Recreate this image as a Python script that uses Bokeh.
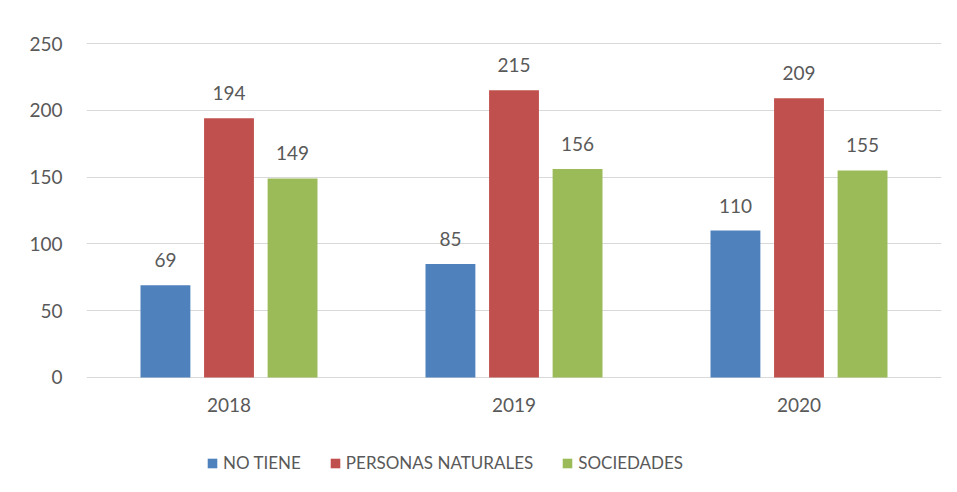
from bokeh.plotting import figure
from bokeh.models import ColumnDataSource, LabelSet, Legend, LegendItem, FactorRange, Range1d
from bokeh.transform import dodge
from bokeh.core.properties import value
from bokeh.embed import file_html
from bokeh.resources import INLINE

years = ["2018", "2019", "2020"]
no_tiene = [69, 85, 110]
personas_naturales = [194, 215, 209]
sociedades = [149, 156, 155]
series_names = ["NO TIENE", "PERSONAS NATURALES", "SOCIEDADES"]
colors = ["#4f81bd", "#c0504d", "#9bbb59"]
y_ticks = [0, 50, 100, 150, 200, 250]

FONT = "Lato"
TXT = "#595959"

src = ColumnDataSource(dict(
    years=years,
    no_tiene=no_tiene,
    personas=personas_naturales,
    sociedades=sociedades,
    no_tiene_t=[str(v) for v in no_tiene],
    personas_t=[str(v) for v in personas_naturales],
    sociedades_t=[str(v) for v in sociedades],
))

p = figure(x_range=FactorRange(*years), y_range=Range1d(-84.6, 250.75), width=950, height=490,
           output_backend="svg", toolbar_location=None,
           min_border_left=86, min_border_top=42, min_border_right=9, min_border_bottom=0)

p.outline_line_color = None
p.background_fill_color = "white"
p.border_fill_color = "white"

cols = ["no_tiene", "personas", "sociedades"]
offsets = [-0.223, 0.0, 0.223]
renderers = []
for c, off, col in zip(cols, offsets, colors):
    r = p.vbar(x=dodge("years", off, range=p.x_range), top=c, width=0.175, source=src,
               fill_color=col, line_color=None)
    renderers.append(r)
    lbl = LabelSet(x=dodge("years", off, range=p.x_range), y=c, text=c + "_t", source=src,
                   text_align="center", text_baseline="middle", y_offset=25,
                   text_font=value(FONT), text_font_size="19px", text_color=TXT)
    p.add_layout(lbl)

p.yaxis.ticker = y_ticks
p.xgrid.grid_line_color = None
p.ygrid.grid_line_color = "#d9d9d9"
p.ygrid.grid_line_width = 1

for ax in (p.xaxis, p.yaxis):
    ax.axis_line_color = None
    ax.major_tick_line_color = None
    ax.minor_tick_line_color = None
    ax.major_label_text_font = FONT
    ax.major_label_text_font_size = "19px"
    ax.major_label_text_color = TXT
p.yaxis.major_label_standoff = 18
p.xaxis.major_label_standoff = 15
p.xaxis.fixed_location = 0

legend = Legend(items=[LegendItem(label=n, renderers=[r]) for n, r in zip(series_names, renderers)],
                orientation="horizontal", location=(120, 17),
                glyph_width=12, glyph_height=12, label_standoff=5, spacing=28,
                label_text_font=FONT, label_text_font_size="17px", label_text_color=TXT,
                border_line_color=None, background_fill_alpha=0, padding=0, margin=0)
p.add_layout(legend)

open("out.html", "w").write(file_html(p, INLINE))
